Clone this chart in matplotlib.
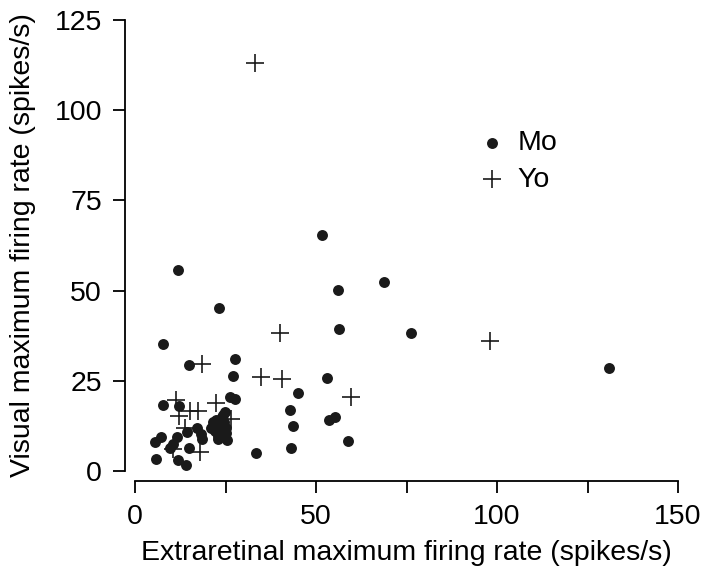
import matplotlib
matplotlib.use("Agg")
import matplotlib.pyplot as plt

plt.rcParams['font.family'] = ['Liberation Sans', 'DejaVu Sans']

# Mo cells (filled dots): extraretinal vs visual max firing rate
mo_x = [131, 51.6, 68.8, 56, 56.3, 76.2, 53, 44.9, 42.8, 43.6, 53.5, 55.3, 58.8, 43, 33.4,
        11.8, 23.3, 7.6, 15, 27.7, 27, 26.2, 27.7, 7.8, 12.2, 24.9, 24.4,
        14.5, 17, 18.2, 18.6, 5.4, 7.1, 11.5, 10.6, 9.7, 15, 5.8, 12, 14.1,
        21, 22, 22.5, 23, 23.5, 24, 24.5, 24, 23, 25, 25.5, 22, 21.5, 24, 22.8, 25.2]
mo_y = [28.5, 65.4, 52.3, 50.1, 39.3, 38.2, 25.7, 21.5, 16.9, 12.6, 14.1, 15, 8.3, 6.5, 5,
        55.6, 45.3, 35.2, 29.3, 31, 26.2, 20.6, 19.9, 18.3, 18, 16.4, 15.6,
        10.9, 11.8, 10.2, 8.8, 8, 9.3, 9.3, 7.6, 6.5, 6.4, 3.2, 3, 1.8,
        12, 13, 14, 12.5, 11, 10, 13.5, 15, 9, 12, 8.5, 11, 13.5, 11.5, 9.8, 10.5]

# Yo cells (plus markers)
yo_x = [33.1, 98, 40, 18.4, 34.7, 40.5, 59.8, 11.2, 22.4, 12.1, 15.3, 17.5, 26.4, 13.8, 18, 10.5]
yo_y = [113, 36, 38.3, 29.7, 26, 25.4, 20.6, 19.7, 18.9, 15.3, 16.6, 16.6, 14.3, 12, 5.2, 6]

fig = plt.figure(figsize=(7.12, 5.75), dpi=100)
ax = fig.add_axes([135 / 712, 104 / 575, 543 / 712, 451 / 575])

ax.scatter(mo_x, mo_y, s=62, c='#1a1a1a', marker='o', linewidths=0, label='Mo', clip_on=False)
ax.scatter(yo_x, yo_y, s=160, c='#1a1a1a', marker='+', linewidths=1.2, label='Yo', clip_on=False)

ax.set_xlim(0, 150)
ax.set_ylim(0, 125)
ax.set_xticks([0, 25, 50, 75, 100, 125, 150])
ax.set_xticklabels(['0', '', '50', '', '100', '', '150'])
ax.set_yticks([0, 25, 50, 75, 100, 125])

for side in ['top', 'right']:
    ax.spines[side].set_visible(False)
ax.spines['left'].set_position(('outward', 7.2))
ax.spines['bottom'].set_position(('outward', 7.2))
ax.spines['left'].set_bounds(0, 125)
ax.spines['bottom'].set_bounds(0, 150)
for side in ['left', 'bottom']:
    ax.spines[side].set_linewidth(1.3)
ax.tick_params(direction='out', length=8.6, width=1.3, labelsize=20.5, pad=8)

ax.set_xlabel('Extraretinal maximum firing rate (spikes/s)', fontsize=20.5, labelpad=7)
ax.set_ylabel('Visual maximum firing rate (spikes/s)', fontsize=20.5, labelpad=13)

ax.legend(loc='upper left', bbox_to_anchor=(0.616, 0.781), frameon=False, fontsize=20.5,
          borderaxespad=0, handlelength=0.8, handletextpad=0.5, labelspacing=0.37,
          scatterpoints=1)

fig.savefig('out.png', dpi=100)
